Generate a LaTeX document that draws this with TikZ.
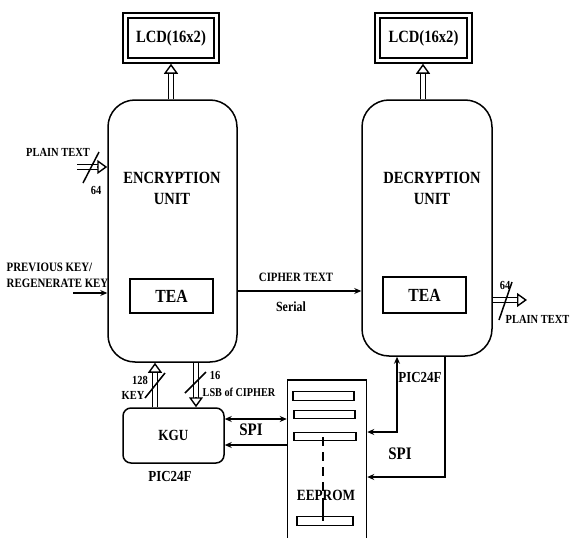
\documentclass[tikz,border=0pt]{standalone}
\usepackage{fontspec}
\setmainfont{Liberation Serif}[FakeStretch=0.85]
\usetikzlibrary{arrows.meta,calc}
\newcommand\dblarrow[2]{%
  \draw[dblshaft, shorten >=8pt] (#1) -- (#2);
  \draw[dbltip] ($(#2)!10pt!(#1)$) -- (#2);}
\begin{document}
\begin{tikzpicture}[x=1pt,y=-1pt, line width=1.4pt,
  box/.style={draw, line width=1.5pt, inner sep=0pt},
  unit/.style={box, rounded corners=27pt},
  lbl/.style={font=\bfseries\fontsize{12.3}{16}\selectfont, inner sep=0pt},
  mid/.style={font=\bfseries\fontsize{15.6}{18}\selectfont, inner sep=0pt},
  big/.style={font=\bfseries\fontsize{17.1}{21}\selectfont, inner sep=0pt, align=center},
  dblshaft/.style={double, double distance=3.6pt, line width=1.5pt},
  dbltip/.style={line width=1.4pt, -{Triangle[open, fill=white, length=10pt, width=14pt, line join=miter]}},
  arr/.style={line width=1.3pt, -{Stealth[length=7pt,width=6pt]}},
  arrb/.style={line width=1.3pt, {Stealth[length=7pt,width=6pt]}-{Stealth[length=7pt,width=6pt]}},
  slash/.style={line width=1.5pt},
  bar/.style={draw, line width=1.3pt, inner sep=0pt, minimum height=8.5pt}]
\path[use as bounding box, fill=white] (0,0) rectangle (571,538);

% LCDs
\node[box, minimum width=96pt, minimum height=50pt] (lcd1o) at (171,38) {};
\node[box, minimum width=86pt, minimum height=40pt, font=\bfseries\fontsize{17.2}{20}\selectfont] (lcd1) at (171,38) {LCD(16x2)};
\node[box, minimum width=97pt, minimum height=50pt] (lcd2o) at (423.5,38) {};
\node[box, minimum width=87pt, minimum height=40pt, font=\bfseries\fontsize{17.2}{20}\selectfont] (lcd2) at (423.5,38) {LCD(16x2)};

% units
\node[unit, minimum width=129pt, minimum height=262pt] (enc) at (172.5,231) {};
\node[big] (enctxt) at (172,188) {ENCRYPTION\\UNIT};
\node[unit, minimum width=130pt, minimum height=256pt] (dec) at (427,228) {};
\node[big] (dectxt) at (432,188) {DECRYPTION\\UNIT};
\node[box, minimum width=83pt, minimum height=34pt, big, font=\bfseries\fontsize{18.5}{21}\selectfont] (tea1) at (171.5,296) {TEA};
\node[box, minimum width=83pt, minimum height=36pt, big, font=\bfseries\fontsize{18.5}{21}\selectfont] (tea2) at (424.5,295) {TEA};

% LCD arrows
\coordinate (xl1) at (171,0);
\coordinate (xl2) at (423,0);
\coordinate (l1a) at (enc.north -| xl1);
\coordinate (l1b) at (lcd1o.south -| xl1);
\coordinate (l2a) at (dec.north -| xl2);
\coordinate (l2b) at (lcd2o.south -| xl2);
\dblarrow{l1a}{l1b}
\dblarrow{l2a}{l2b}

% plain text in
\coordinate (pt1) at (77,167);
\coordinate (pt1e) at (pt1 -| enc.west);
\dblarrow{pt1}{pt1e}
\node[lbl] (ptl1) at (58,152) {PLAIN TEXT};
\node[lbl] (n64a) at (96,190) {64};
\draw[slash] (83,183) -- (99,152);

% previous key
\node[lbl, align=left, anchor=west, font=\bfseries\fontsize{12.8}{16}\selectfont] (pk) at (6,275) {PREVIOUS KEY/\\REGENERATE KEY};
\coordinate (pk0) at (73,293);
\draw[arr] (pk0) -- (pk0 -| enc.west);

% cipher text
\coordinate (cy) at (0,291);
\draw[arr] (enc.east |- cy) -- (dec.west |- cy);
\node[lbl, font=\bfseries\fontsize{12.7}{16}\selectfont] (ct) at (296,277) {CIPHER TEXT};
\node[lbl, font=\bfseries\fontsize{14}{16}\selectfont] (serial) at (291,307) {Serial};

% plain text out
\coordinate (pt2) at (527,300);
\coordinate (pt2s) at (dec.east |- pt2);
\dblarrow{pt2s}{pt2}
\node[lbl] (n64b) at (505,285) {64};
\node[lbl, anchor=east] (ptl2) at (570,319) {PLAIN TEXT};
\draw[slash] (499,320) -- (512,282);

% KGU
\node[box, rounded corners=8pt, minimum width=101pt, minimum height=55pt, mid, font=\bfseries\fontsize{15.5}{18}\selectfont] (kgu) at (173.5,435.5) {KGU};
\node[mid, font=\bfseries\fontsize{15.3}{18}\selectfont] (pic1) at (170,477) {PIC24F};
\coordinate (xk1) at (155,0);
\coordinate (xk2) at (196,0);
\coordinate (k1a) at (kgu.north -| xk1);
\coordinate (k1b) at (enc.south -| xk1);
\coordinate (k2a) at (enc.south -| xk2);
\coordinate (k2b) at (kgu.north -| xk2);
\dblarrow{k1a}{k1b}
\dblarrow{k2a}{k2b}
\draw[slash] (145,398) -- (165,373);
\draw[slash] (185,393) -- (206,372);
\node[lbl] (n128) at (140,380) {128};
\node[lbl] (key) at (133,395) {KEY};
\node[lbl] (n16) at (215,375) {16};
\node[lbl, anchor=west, font=\bfseries\fontsize{12}{16}\selectfont] (lsb) at (202,392) {LSB of CIPHER};

% EEPROM
\node[box, minimum width=79pt, minimum height=166pt] (ee) at (327,463) {};
\node[bar, minimum width=61pt] (b1) at (323.5,396) {};
\node[bar, minimum width=61pt] (b2) at (324.5,414.5) {};
\node[bar, minimum width=62pt] (b3) at (325,436.5) {};
\node[bar, minimum width=56pt] (b4) at (325,521) {};
\node[mid] (eetxt) at (326,495) {EEPROM};
\coordinate (xd) at (323,0);
\draw[line width=1.3pt, dash pattern=on 9pt off 6pt] ([yshift=4pt]b3.south -| xd) -- ([yshift=-3pt]eetxt.north -| xd);
\draw[line width=1.3pt] ([yshift=3pt]eetxt.south -| xd) -- ([yshift=-5pt]b4.north -| xd);

% SPI left
\coordinate (s1) at (0,419);
\coordinate (s2) at (0,445);
\draw[arrb] (kgu.east |- s1) -- (ee.west |- s1);
\draw[arr] (ee.west |- s2) -- (kgu.east |- s2);
\node[mid, font=\bfseries\fontsize{17.6}{20}\selectfont] (spi1) at (251,430) {SPI};

% SPI right
\coordinate (r1) at (397,432);
\coordinate (r2) at (445,477);
\draw[arrb] (ee.east |- r1) -- (r1) -- (r1 |- dec.south);
\draw[arr] (r2 |- dec.south) -- (r2) -- (ee.east |- r2);
\node[mid, font=\bfseries\fontsize{15.3}{18}\selectfont] (pic2) at (420,378) {PIC24F};
\node[mid, font=\bfseries\fontsize{17.6}{20}\selectfont] (spi2) at (400,454) {SPI};
\end{tikzpicture}
\end{document}
